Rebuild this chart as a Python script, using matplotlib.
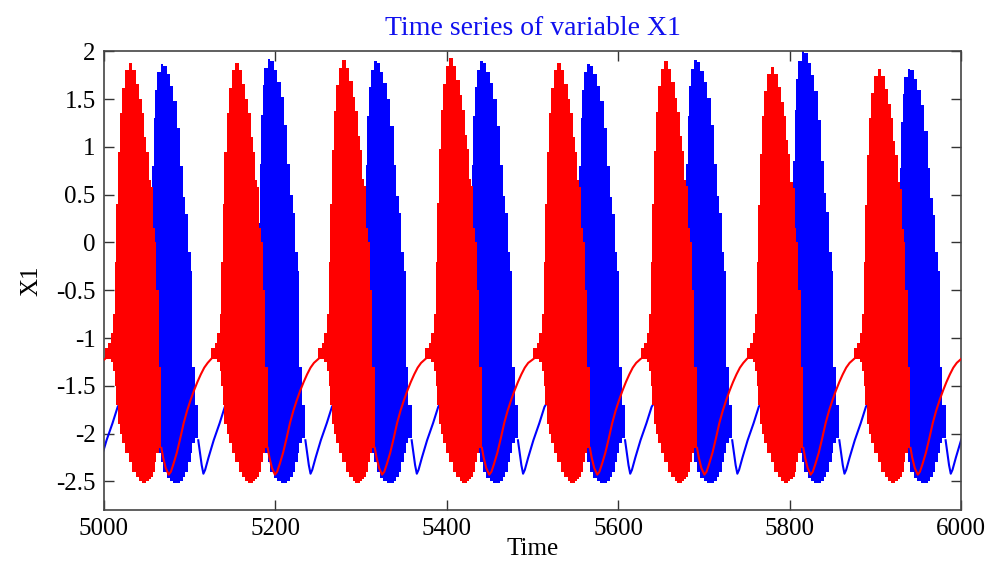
import numpy as np
import matplotlib
matplotlib.use('Agg')
import matplotlib.pyplot as plt

plt.rcParams['font.family'] = 'Liberation Serif'
plt.rcParams['axes.unicode_minus'] = False

# burst onsets (time where the big spikes start) and top spike of each burst
red_onsets = [4888, 5013, 5137, 5262, 5387, 5513, 5638, 5762, 5887, 6012]
red_peaks = [1.88, 1.88, 1.88, 1.91, 1.93, 1.88, 1.90, 1.84, 1.82, 1.85]
blue_onsets = [4933, 5058, 5183, 5307, 5431, 5556, 5681, 5806, 5930]
blue_peaks = [1.87, 1.87, 1.92, 1.90, 1.90, 1.87, 1.91, 2.00, 1.82]

# spike envelope of a red burst, time relative to onset
red_edges = [-12, -8, -5, -2, 0, 1.5, 3.5, 6, 8.5, 12, 16, 20, 24, 28, 31, 34,
             36.5, 39, 41.5, 44, 46, 48, 51, 54]
red_hi = [-1.1, -1.05, -0.95, -0.75, -0.2, 0.4, 0.95, 1.35, 1.62, 1.8, 1.88,
          1.8, 1.66, 1.5, 1.35, 1.1, 0.95, 0.65, 0.58, 0.15, 0.0, -0.5, -1.3]
red_lo = [-1.22, -1.22, -1.25, -1.35, -1.5, -1.7, -1.9, -2.0, -2.1, -2.2, -2.3,
          -2.4, -2.45, -2.5, -2.52, -2.52, -2.5, -2.48, -2.45, -2.4, -2.3, -2.2, -2.15]
# slow recovery between red bursts
red_rest_t = [54, 56, 59, 62.5, 65, 68, 72, 76, 80, 84, 88, 92, 96, 100, 104, 108]
red_rest_v = [-2.15, -2.25, -2.36, -2.43, -2.4, -2.32, -2.2, -2.05, -1.89, -1.76,
              -1.65, -1.55, -1.46, -1.38, -1.31, -1.26]

# spike envelope of a blue burst
blue_edges = [-5, -3, -1.5, 0, 2, 4, 8, 11, 15, 19, 23, 27, 31, 34, 37, 40, 43,
              45, 48, 52]
blue_hi = [-0.6, 0.2, 0.8, 1.3, 1.6, 1.78, 1.87, 1.85, 1.76, 1.64, 1.48, 1.2,
           0.8, 0.48, 0.3, -0.1, -0.3, -1.3, -1.7]
blue_lo = [-1.7, -1.8, -1.9, -2.0, -2.1, -2.2, -2.3, -2.4, -2.47, -2.5, -2.52,
           -2.52, -2.5, -2.45, -2.4, -2.3, -2.2, -2.1, -2.05]
blue_rest_t = [52, 54, 56, 58, 60, 64, 70, 77, 83, 90, 100, 110]
blue_rest_v = [-2.07, -2.2, -2.33, -2.42, -2.38, -2.25, -2.07, -1.89, -1.72,
               -1.62, -1.52, -1.45]

fig = plt.figure(figsize=(9.96, 5.63), dpi=100)
ax = fig.add_axes([0.1044, 0.0941, 0.8605, 0.8147])


def draw(onsets, peaks, edges, hi, lo, rest_t, rest_v, end_v, color, z):
    hi = np.array(hi)
    for i, t0 in enumerate(onsets):
        top = np.where(hi > 0, hi * peaks[i] / hi.max(), hi)
        ax.stairs(top, t0 + np.array(edges), baseline=lo, fill=True,
                  color=color, lw=0, zorder=z)
        t = [t0 + o for o in rest_t]
        v = list(rest_v)
        if i + 1 < len(onsets):
            t.append(onsets[i + 1] + edges[0])
            v.append(end_v)
        ax.plot(t, v, color=color, lw=1.5, zorder=z)


draw(blue_onsets, blue_peaks, blue_edges, blue_hi, blue_lo, blue_rest_t,
     blue_rest_v, -1.7, '#0000ff', 2)
draw(red_onsets, red_peaks, red_edges, red_hi, red_lo, red_rest_t,
     red_rest_v, -1.22, '#ff0000', 3)

ax.set_xlim(5000, 6000)
ax.set_ylim(-2.8, 2)
ax.set_xticks(np.arange(5000, 6001, 200))
ax.set_yticks(np.arange(-2.5, 2.01, 0.5))
ax.set_yticklabels(['-2.5', '-2', '-1.5', '-1', '-0.5', '0', '0.5', '1', '1.5', '2'])
ax.tick_params(direction='in', length=7, width=1, top=True, right=True,
               labelsize=18, pad=6, color='#333333')
for s in ax.spines.values():
    s.set_color('#444444')
    s.set_linewidth(1.2)

ax.set_xlabel('Time', fontsize=18, labelpad=-2)
ax.set_ylabel('X1', fontsize=18, labelpad=10)
ax.set_title('Time series of variable X1', fontsize=20, color='#1010ee', pad=12)

fig.savefig('out.png', dpi=100)
